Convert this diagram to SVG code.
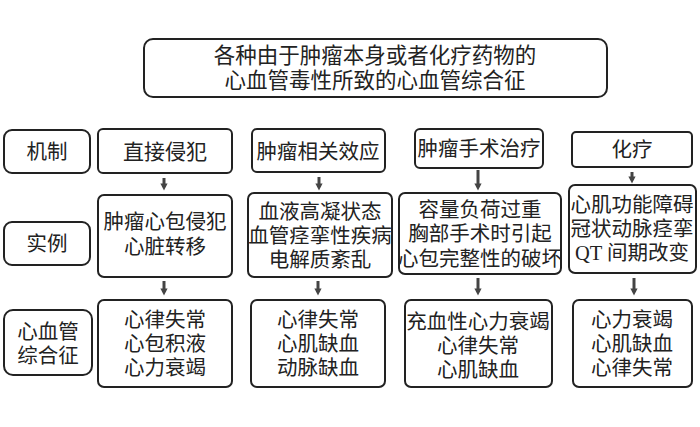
<svg xmlns="http://www.w3.org/2000/svg" width="700" height="427" viewBox="0 0 700 427">
<defs>
<style>
.b{fill:#fff;stroke:#222;stroke-width:2}
.t{font-family:"Liberation Serif","Noto Sans CJK SC",serif;font-size:20.5px;fill:#222;text-anchor:middle}
.a{stroke:#444;stroke-width:3;fill:none}
</style>
<marker id="ah" viewBox="0 0 6 6" refX="3" refY="3" markerWidth="2.4" markerHeight="2.4" orient="auto" markerUnits="strokeWidth">
<path d="M0,0L6,3L0,6z" fill="#444"/>
</marker>
</defs>
<rect width="700" height="427" fill="#fff"/>
<g id="title"><rect class="b" x="144" y="39" width="463" height="58" rx="9"/>
<text class="t" x="375" y="63" style="font-size:21.5px">各种由于肿瘤本身或者化疗药物的</text>
<text class="t" x="375" y="88" style="font-size:21.5px">心血管毒性所致的心血管综合征</text></g>
<g id="lbl1"><rect class="b" x="4" y="130" width="86" height="43" rx="8"/><text class="t" x="47" y="159">机制</text></g>
<g id="lbl2"><rect class="b" x="4" y="222" width="86" height="43" rx="8"/><text class="t" x="47" y="251">实例</text></g>
<g id="lbl3"><rect class="b" x="4" y="310" width="88" height="65" rx="9"/><text class="t" x="48" y="339">心血管</text><text class="t" x="48" y="363">综合征</text></g>
<g id="m1"><rect class="b" x="98" y="129" width="134" height="44" rx="5"/><text class="t" x="165" y="159" style="font-size:21px">直接侵犯</text></g>
<g id="m2"><rect class="b" x="252" y="129" width="133" height="43" rx="5"/><text class="t" x="318" y="159">肿瘤相关效应</text></g>
<g id="m3"><rect class="b" x="415" y="129" width="128" height="39" rx="5"/><text class="t" x="479" y="156">肿瘤手术治疗</text></g>
<g id="m4"><rect class="b" x="572" y="132" width="120" height="35" rx="4"/><text class="t" x="632" y="157">化疗</text></g>
<g id="e1"><rect class="b" x="98" y="195" width="134" height="82" rx="6"/><text class="t" x="165" y="229">肿瘤心包侵犯</text><text class="t" x="165" y="254">心脏转移</text></g>
<g id="e2"><rect class="b" x="248" y="193" width="144" height="84" rx="6"/><text class="t" x="320" y="219">血液高凝状态</text><text class="t" x="320" y="243">血管痉挛性疾病</text><text class="t" x="320" y="267">电解质紊乱</text></g>
<g id="e3"><rect class="b" x="399" y="193" width="162" height="81" rx="6"/><text class="t" x="480" y="217">容量负荷过重</text><text class="t" x="480" y="241">胸部手术时引起</text><text class="t" x="480" y="266">心包完整性的破坏</text></g>
<g id="e4"><rect class="b" x="569" y="185" width="127" height="88" rx="6"/><text class="t" x="632" y="212">心肌功能障碍</text><text class="t" x="632" y="236">冠状动脉痉挛</text><text class="t" x="632" y="260">QT 间期改变</text></g>
<g id="s1"><rect class="b" x="98" y="300" width="134" height="87" rx="6"/><text class="t" x="165" y="327">心律失常</text><text class="t" x="165" y="351">心包积液</text><text class="t" x="165" y="375">心力衰竭</text></g>
<g id="s2"><rect class="b" x="251" y="300" width="134" height="87" rx="6"/><text class="t" x="318" y="327">心律失常</text><text class="t" x="318" y="351">心肌缺血</text><text class="t" x="318" y="375">动脉缺血</text></g>
<g id="s3"><rect class="b" x="405" y="300" width="147" height="87" rx="6"/><text class="t" x="478" y="329">充血性心力衰竭</text><text class="t" x="478" y="353">心律失常</text><text class="t" x="478" y="377">心肌缺血</text></g>
<g id="s4"><rect class="b" x="573" y="300" width="119" height="87" rx="6"/><text class="t" x="632" y="327">心力衰竭</text><text class="t" x="632" y="351">心肌缺血</text><text class="t" x="632" y="375">心律失常</text></g>
<g id="connectors">
<line class="a" x1="164" y1="178" x2="164" y2="187" marker-end="url(#ah)"/>
<line class="a" x1="319" y1="177" x2="319" y2="187" marker-end="url(#ah)"/>
<line class="a" x1="478" y1="170" x2="478" y2="187" marker-end="url(#ah)"/>
<line class="a" x1="632" y1="172" x2="632" y2="180" marker-end="url(#ah)"/>
<line class="a" x1="164" y1="281" x2="164" y2="292" marker-end="url(#ah)"/>
<line class="a" x1="318" y1="281" x2="318" y2="292" marker-end="url(#ah)"/>
<line class="a" x1="478" y1="278" x2="478" y2="292" marker-end="url(#ah)"/>
<line class="a" x1="634" y1="278" x2="634" y2="292" marker-end="url(#ah)"/>
</g>
</svg>
